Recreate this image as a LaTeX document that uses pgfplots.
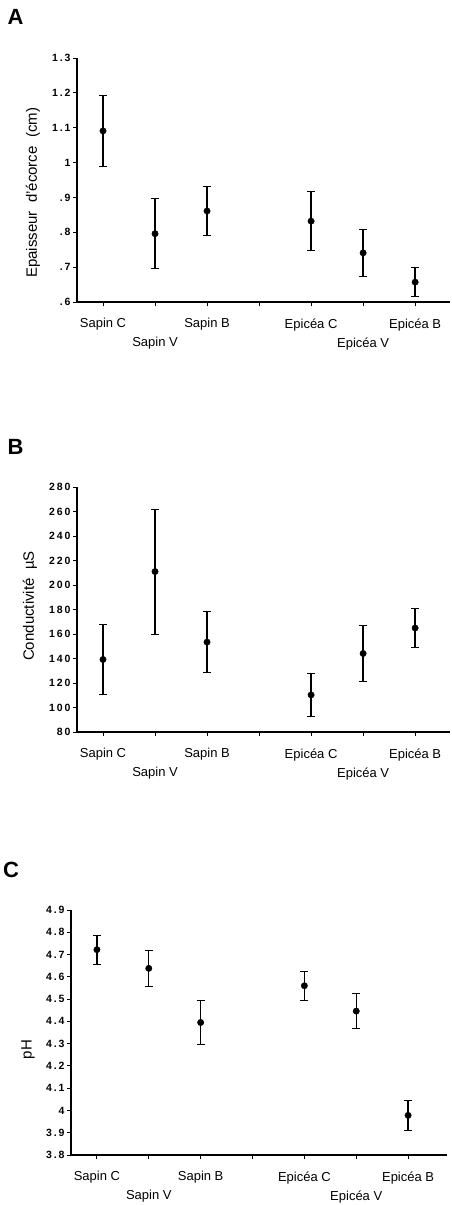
\documentclass[border=0pt]{standalone}
\usepackage{fontspec}
\setmainfont{Liberation Sans}
\usepackage{pgfplots}
\usepackage{pgfplotstable}
\pgfplotsset{compat=1.18}

\pgfplotstableread{
x y e
0 1.091 0.102
1 0.796 0.100
2 0.861 0.070
4 0.832 0.084
5 0.741 0.068
6 0.657 0.042
}\dataA
\pgfplotstableread{
x y e
0 139.2 28.2
1 211.0 51.0
2 153.4 25.0
4 110.3 17.5
5 144.1 23.2
6 164.9 16.2
}\dataB
\pgfplotstableread{
x y e
0 4.722 0.065
1 4.638 0.082
2 4.395 0.097
4 4.560 0.066
5 4.446 0.080
6 3.978 0.067
}\dataC

\pgfplotsset{
  panel/.style={
    scale only axis,
    axis lines=left,
    axis line style={-, line width=1.1pt},
    xmin=-0.5,
    xtick={0,...,6},
    xticklabels={Sapin C,,Sapin B,,Epicéa C,,Epicéa B},
    extra x ticks={1,5},
    extra x tick labels={Sapin V,Epicéa V},
    extra x tick style={tick label style={yshift=-19pt}},
    tick align=outside,
    major tick length=4pt,
    tick style={line width=0.9pt, black},
    xticklabel style={font=\fontsize{13}{15}\selectfont, yshift=-9pt},
    yticklabel style={font=\fontsize{10.5}{12}\selectfont\bfseries\addfontfeature{LetterSpace=18}, xshift=1pt},
    ylabel style={font=\fontsize{15}{17}\selectfont, anchor=center, rotate=0},
    clip=false,
  },
  pts/.style={only marks, mark=*, mark size=3.2pt, black,
    error bars/.cd, y dir=both, y explicit,
    error bar style={line width=1.4pt, black},
    error mark options={rotate=90, mark size=4pt, line width=1pt, black}},
}

\begin{document}
\begin{tikzpicture}
\useasboundingbox (0,0) rectangle (451pt,-1205pt);

% Panel A
\node[font=\fontsize{22}{24}\selectfont\bfseries] at (15.5pt,-17pt) {A};
\begin{axis}[panel,
  at={(77pt,-302pt)}, anchor=south west,
  width=373pt, height=244pt,
  xmax=6.67,
  ymin=0.6, ymax=1.3,
  ytick={0.6,0.7,0.8,0.9,1.0,1.1,1.2,1.3},
  yticklabels={.6,.7,.8,.9,1,1.1,1.2,1.3},
  ylabel={Epaisseur\ \ d'écorce\ \ (cm)},
  ylabel style={at={(axis description cs:-0.118,0.447)}},
]
\addplot[pts] table[x=x, y=y, y error=e] {\dataA};
\end{axis}

% Panel B
\node[font=\fontsize{22}{24}\selectfont\bfseries] at (15.5pt,-447pt) {B};
\begin{axis}[panel,
  at={(77pt,-732pt)}, anchor=south west,
  width=373pt, height=245pt,
  xmax=6.67,
  ymin=80, ymax=280,
  ytick={80,100,...,280},
  yticklabels={80,100,120,140,160,180,200,220,240,260,280},
  ylabel={Conductivité\ \ µS},
  ylabel style={at={(axis description cs:-0.126,0.514)}},
]
\addplot[pts] table[x=x, y=y, y error=e] {\dataB};
\end{axis}

% Panel C
\node[font=\fontsize{22}{24}\selectfont\bfseries] at (11pt,-870pt) {C};
\begin{axis}[panel,
  at={(71pt,-1155pt)}, anchor=south west,
  width=376pt, height=245pt,
  xmax=6.75,
  ymin=3.8, ymax=4.9,
  ytick={3.8,3.9,4.0,4.1,4.2,4.3,4.4,4.5,4.6,4.7,4.8,4.9},
  yticklabels={3.8,3.9,4,4.1,4.2,4.3,4.4,4.5,4.6,4.7,4.8,4.9},
  ylabel={pH},
  ylabel style={at={(axis description cs:-0.114,0.43)}},
]
\addplot[pts] table[x=x, y=y, y error=e] {\dataC};
\end{axis}
\end{tikzpicture}
\end{document}
